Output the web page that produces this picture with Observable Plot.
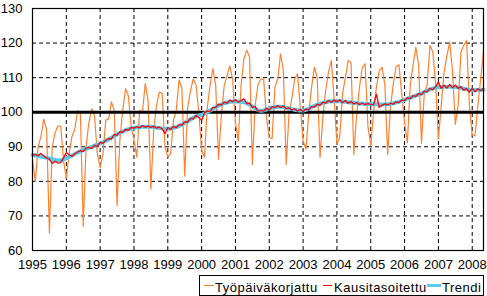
<!DOCTYPE html>
<html><head><meta charset="utf-8">
<script src="https://cdn.jsdelivr.net/npm/d3@7"></script>
<script src="https://cdn.jsdelivr.net/npm/@observablehq/plot@0.6"></script>
<style>
body{margin:0;background:#fff;font-family:"Liberation Sans",Arial,sans-serif;color:#000;}
#wrap{position:relative;width:487px;height:296px;overflow:hidden;}
#legend{position:absolute;left:199px;top:275px;width:283px;height:19px;border:1px solid #000;font-size:13px;}
#legend .s{position:absolute;}
#legend .t{position:absolute;top:2px;line-height:20px;white-space:nowrap;letter-spacing:0.5px;}
</style></head>
<body>
<div id="wrap"><div id="chart"></div>
<div id="legend">
 <div class="s" style="left:4px;top:9px;width:10px;height:1px;background:#ff8030"></div>
 <div class="t" style="left:15px">Työpäiväkorjattu</div>
 <div class="s" style="left:123px;top:9px;width:9px;height:1px;background:#ff0000"></div>
 <div class="t" style="left:134px">Kausitasoitettu</div>
 <div class="s" style="left:227px;top:8px;width:14px;height:3px;background:#55ccee"></div>
 <div class="t" style="left:242px">Trendi</div>
</div></div>
<script>
const yearLabels = ["1995","1996","1997","1998","1999","2000","2001","2002","2003","2004","2005","2006","2007","2008"];
const yTicks = [60,70,80,90,100,110,120,130];
const seriesNames = ["Työpäiväkorjattu","Kausitasoitettu","Trendi"];

const tyopaivakorjattu = [
 86, 80, 90, 93, 98, 95, 65, 90, 94, 96, 96, 86,
 81, 88, 93, 95, 100.5, 99.5, 67, 90, 97, 101, 99, 88,
 84, 88, 97.7, 98, 103, 100.5, 73, 92, 100.5, 106.8, 104.7, 96,
 92, 87, 100.5, 100, 108.3, 103.5, 77.7, 95, 102, 105.8, 105.4, 90,
 87, 88, 97.7, 100.5, 109.3, 107, 81.5, 101, 106, 109.6, 108, 100,
 89, 87, 101.3, 107.7, 112.6, 107.7, 86.4, 99, 107.7, 110.5, 113.4, 109.6,
 97, 91.7, 107.7, 115.5, 117.9, 116, 84.9, 102, 108, 109.6, 109.6, 98.6,
 92.7, 92.3, 107.2, 109.6, 116.9, 112, 84.9, 99.5, 104, 109.6, 111.1, 101.4,
 91.7, 89.3, 99.5, 107.2, 113, 110.1, 86.9, 98.5, 106.2, 111.6, 115, 104,
 90.8, 92.8, 105.3, 110, 114.9, 114.4, 87.8, 99.4, 107.2, 113, 114, 96,
 90.3, 100, 107.2, 112, 113, 108, 87.8, 101.4, 108.2, 113.2, 113.7, 105.3,
 97, 91.2, 107.7, 113.5, 118.8, 113.5, 91, 105.8, 107.7, 119.3, 117.4, 108.7,
 92.2, 101.9, 111.6, 116.3, 120.3, 112, 96.5, 101.9, 117.4, 119.3, 120.8, 101.9,
 93.2, 93.2, 101.9, 109.6, 117.9
];
const kausitasoitettu = [
 87.6, 87.8, 87.4, 88.1, 87.3, 86.8, 86.4, 85.2, 85.8, 85.3, 85.4, 86.8,
 88.3, 87.7, 87.2, 88.0, 88.5, 88.9, 88.6, 89.6, 89.8, 89.5, 90.4, 90.1,
 91.3, 91.0, 91.9, 92.4, 92.3, 93.5, 93.4, 94.3, 94.2, 95.0, 94.8, 95.6,
 95.4, 95.8, 95.5, 96.1, 95.7, 96.0, 95.6, 95.9, 95.4, 95.7, 95.2, 93.8,
 95.6, 95.0, 95.9, 95.5, 96.4, 96.3, 97.2, 97.1, 98.2, 98.0, 99.1, 98.5,
 97.6, 99.8, 100.3, 100.2, 101.3, 101.4, 102.3, 102.1, 102.9, 102.6, 103.5, 103.0,
 103.6, 102.9, 103.4, 103.9, 102.5, 102.6, 101.4, 101.6, 100.2, 100.5, 100.3, 101.1,
 100.6, 101.6, 101.3, 101.9, 101.4, 101.8, 101.0, 101.3, 100.6, 101.0, 100.3, 100.8,
 100.2, 100.9, 100.7, 101.6, 101.5, 102.3, 102.0, 102.9, 102.6, 103.4, 102.8, 103.5,
 103.0, 103.6, 102.7, 103.4, 102.6, 103.1, 102.4, 102.8, 102.2, 102.6, 102.2, 102.5,
 102.3, 102.1, 105.2, 101.4, 102.0, 102.4, 102.1, 102.6, 102.3, 103.0, 102.8, 103.5,
 103.4, 104.2, 103.9, 104.8, 104.6, 105.4, 105.1, 106.1, 105.9, 106.9, 106.5, 107.4,
 108.7, 106.9, 107.8, 107.0, 108.0, 107.1, 107.8, 106.9, 107.4, 106.3, 106.9, 105.8,
 106.9, 105.9, 106.8, 106.2, 106.9
];
const trendi = [
 87.6, 87.5, 87.4, 87.2, 87.0, 86.8, 86.6, 86.4, 86.2, 86.1, 86.1, 86.3,
 86.7, 87.1, 87.5, 87.9, 88.3, 88.7, 89.1, 89.4, 89.7, 90.0, 90.3, 90.6,
 90.9, 91.3, 91.7, 92.1, 92.6, 93.1, 93.6, 94.0, 94.4, 94.8, 95.1, 95.3,
 95.5, 95.6, 95.7, 95.8, 95.8, 95.8, 95.8, 95.7, 95.6, 95.4, 95.3, 95.2,
 95.2, 95.3, 95.5, 95.7, 96.0, 96.4, 96.9, 97.4, 97.9, 98.4, 98.8, 99.0,
 99.2, 99.6, 100.0, 100.5, 101.0, 101.5, 101.9, 102.3, 102.6, 102.8, 103.0, 103.1,
 103.1, 103.1, 103.0, 102.9, 102.6, 102.2, 101.7, 101.1, 100.6, 100.4, 100.5, 100.8,
 101.0, 101.3, 101.5, 101.6, 101.6, 101.5, 101.3, 101.1, 100.9, 100.7, 100.6, 100.5,
 100.5, 100.7, 101.0, 101.5, 101.8, 102.1, 102.4, 102.7, 102.9, 103.1, 103.2, 103.2,
 103.2, 103.2, 103.1, 103.0, 102.9, 102.8, 102.7, 102.6, 102.5, 102.5, 102.4, 102.4,
 102.4, 102.3, 102.3, 102.2, 102.2, 102.2, 102.3, 102.4, 102.6, 102.8, 103.0, 103.3,
 103.6, 103.9, 104.2, 104.5, 104.8, 105.1, 105.4, 105.8, 106.2, 106.6, 106.9, 107.1,
 107.2, 107.3, 107.4, 107.4, 107.4, 107.4, 107.3, 107.2, 107.0, 106.8, 106.6, 106.5,
 106.4, 106.4, 106.4, 106.5, 106.5
];

const rows = (arr) => arr.map((v, i) => ({m: i, v}));
const xTicks = yearLabels.map((_, i) => i * 12);

const chart = Plot.plot({
  width: 487, height: 272,
  marginLeft: 32, marginRight: 4, marginTop: 8, marginBottom: 22,
  style: {fontFamily: '"Liberation Sans", Arial, sans-serif', fontSize: "13px", color: "#000", background: "#fff"},
  x: {domain: [0, tyopaivakorjattu.length - 1], axis: null},
  y: {domain: [60, 130], axis: null},
  marks: [
    Plot.gridX(xTicks, {stroke: "#000", strokeOpacity: 1, strokeDasharray: "4,3"}),
    Plot.gridY(yTicks, {stroke: "#000", strokeOpacity: 1, strokeDasharray: "4,3"}),
    Plot.axisY(yTicks, {tickSize: 0, tickPadding: 10, fontSize: 13, label: null}),
    Plot.axisX(xTicks, {tickSize: 0, tickPadding: 9, fontSize: 13, label: null, tickFormat: d => yearLabels[d / 12]}),
    Plot.line(rows(tyopaivakorjattu), {x: "m", y: "v", stroke: "#ff8030", strokeWidth: 1.2}),
    Plot.ruleY([100], {stroke: "#000", strokeWidth: 3}),
    Plot.line(rows(trendi), {x: "m", y: "v", stroke: "#55ccee", strokeWidth: 4}),
    Plot.line(rows(kausitasoitettu), {x: "m", y: "v", stroke: "#ff0000", strokeWidth: 1.3}),
    Plot.frame({stroke: "#000", strokeWidth: 1.2})
  ]
});
document.getElementById("chart").appendChild(chart);
</script>
</body></html>
